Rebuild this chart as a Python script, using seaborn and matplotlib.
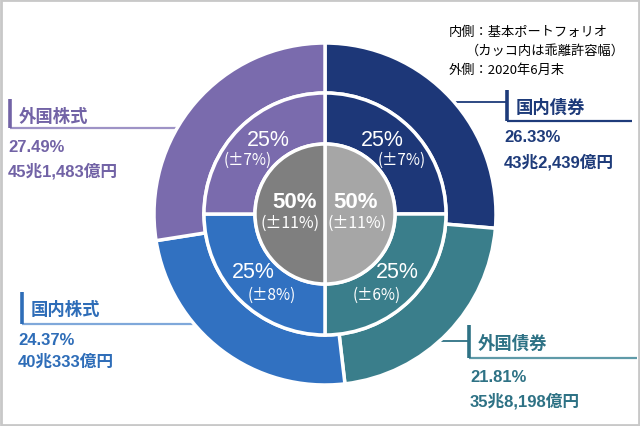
import matplotlib
matplotlib.use("Agg")
import matplotlib.pyplot as plt
import seaborn as sns
import numpy as np

# ---- data ----
categories = ["国内債券", "外国債券", "国内株式", "外国株式"]
actual_pct = [26.33, 21.81, 24.37, 27.49]
amounts = ["43兆2,439億円", "35兆8,198億円", "40兆333億円", "45兆1,483億円"]
policy_pct = [25, 25, 25, 25]
policy_tol = [7, 6, 8, 7]
inner_groups = ["債券", "株式"]
inner_pct = [50, 50]
inner_tol = [11, 11]
note_lines = ["内側：基本ポートフォリオ", "（カッコ内は乖離許容幅）", "外側：2020年6月末"]

sns.set_theme(style="white")
CJK = ["Noto Sans CJK JP", "DejaVu Sans"]
LAT = ["Liberation Sans", "Noto Sans CJK JP", "DejaVu Sans"]
plt.rcParams["font.family"] = CJK

seg_colors = ["#1D3778", "#3A7E8B", "#3171C1", "#7A6BAD"]
txt_colors = ["#1E3B7A", "#2E7285", "#2E6DB8", "#7263A6"]
line_colors = ["#1E3B7A", "#5F9AA8", "#7FA8DA", "#9E93C6"]
inner_colors = ["#A6A6A6", "#7F7F7F"]

W, H = 640, 427
fig = plt.figure(figsize=(6.4, 4.27), dpi=100)
ax = fig.add_axes([0, 0, 1, 1])

cx, cy = 325, 215
def Y(y):
    return H - y

R_out, R_mid, R_in = 171, 121, 70
ax.pie(actual_pct, radius=R_out, center=(cx, Y(cy)), colors=seg_colors,
       startangle=90, counterclock=False,
       wedgeprops=dict(width=R_out - R_mid, edgecolor="white", linewidth=2.5))
ax.pie(policy_pct, radius=R_mid, center=(cx, Y(cy)), colors=seg_colors,
       startangle=90, counterclock=False,
       wedgeprops=dict(width=R_mid - R_in, edgecolor="white", linewidth=2.5))
ax.pie(inner_pct, radius=R_in, center=(cx, Y(cy)), colors=inner_colors,
       startangle=90, counterclock=False,
       wedgeprops=dict(edgecolor="white", linewidth=2.5))

ax.set_xlim(0, W)
ax.set_ylim(0, H)
ax.set_aspect("auto")
ax.axis("off")

# middle ring labels (order: 国内債券 TR, 外国債券 BR, 国内株式 BL, 外国株式 TL)
mid_pos = [((382, 140), (402, 160)), ((397, 273), (377, 295)),
           ((253, 273), (272, 295)), ((268, 140), (248, 160))]
for (p1, p2), v, t in zip(mid_pos, policy_pct, policy_tol):
    ax.text(p1[0], Y(p1[1]), f"{v}%", color="white", fontsize=15.5,
            family=LAT, ha="center", va="center")
    ax.text(p2[0], Y(p2[1]), f"(±{t}%)", color="white", fontsize=11,
            family=CJK, ha="center", va="center")

inner_pos = [((356, 203), (357, 223)), ((295, 203), (290, 223))]
for (p1, p2), v, t in zip(inner_pos, inner_pct, inner_tol):
    ax.text(p1[0], Y(p1[1]), f"{v}%", color="white", fontsize=16,
            fontweight="bold", family=LAT, ha="center", va="center")
    ax.text(p2[0], Y(p2[1]), f"(±{t}%)", color="white", fontsize=11.5,
            family=CJK, ha="center", va="center")

# outer labels
def edge_x(y, side):
    dy = y - cy
    dx = np.sqrt(max(R_out ** 2 - dy ** 2, 0))
    return cx + side * dx

# (bar_x, bar_top, bar_bottom, underline_end, name_x, name_y, val_x, pct_y, amt_y, leader_y)
lab = [
    (507, 91, 122, 632, 516, 108, 504, 137, 162, 103),
    (469, 326, 359, 637, 478, 344, 470, 378, 401, 342),
    (22, 293, 325, None, 31, 310, 18, 341, 362, None),
    (10, 100, 129, None, 19, 117, 8, 148, 171, None),
]
for i, (bx, bt, bb, ue, nx, ny, vx, py, ay, ly) in enumerate(lab):
    c = txt_colors[i]
    ax.plot([bx, bx], [Y(bt), Y(bb)], color=c, lw=2.6, solid_capstyle="butt")
    if ue is None:
        ue = edge_x(bb, -1) + 2
    ax.plot([bx, ue], [Y(bb), Y(bb)], color=line_colors[i], lw=1.6,
            solid_capstyle="butt", zorder=0.5)
    if ly is not None:
        ax.plot([edge_x(ly, 1) - 2, bx], [Y(ly), Y(ly)], color=c, lw=1.3,
                zorder=0.5)
    ax.text(nx, Y(ny), categories[i], color=c, fontsize=12.5, fontweight="bold",
            family=CJK, ha="left", va="center")
    ax.text(vx, Y(py), f"{actual_pct[i]:.2f}%", color=c, fontsize=12,
            fontweight="bold", family=LAT, ha="left", va="center")
    ax.text(vx, Y(ay), amounts[i], color=c, fontsize=12, fontweight="bold",
            family=LAT, ha="left", va="center")

# note at top right
ax.text(449, Y(32), note_lines[0], fontsize=9.5, color="black", family=CJK,
        ha="left", va="center")
ax.text(466, Y(51), note_lines[1], fontsize=9.5, color="black", family=CJK,
        ha="left", va="center")
ax.text(449, Y(70), note_lines[2], fontsize=9.5, color="black", family=CJK,
        ha="left", va="center")

# frame
ax.add_patch(plt.Rectangle((1, 1), W - 2, H - 2, fill=False, edgecolor="#C8C8C8",
                           lw=2, transform=ax.transData, clip_on=False))

fig.savefig("out.png", dpi=100)
